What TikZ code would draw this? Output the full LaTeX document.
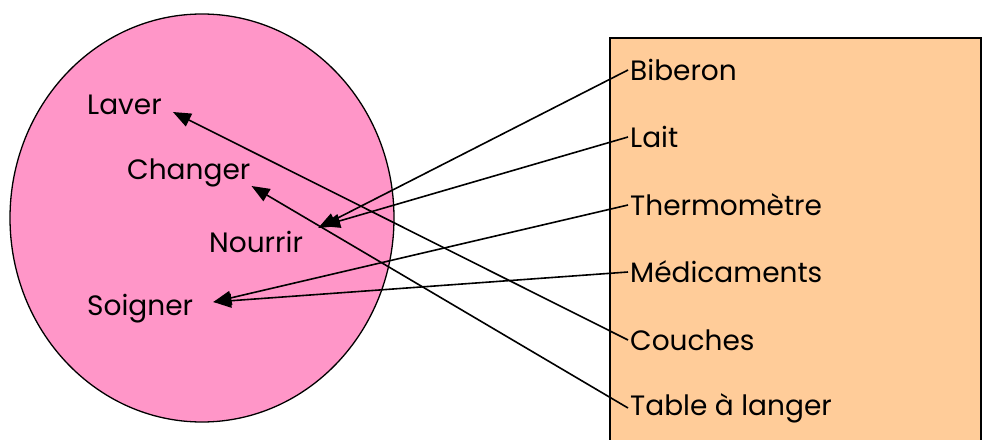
\documentclass[tikz,border=0pt]{standalone}
\usepackage{fontspec}
\setmainfont{Poppins}
\usetikzlibrary{arrows.meta}
\definecolor{setpink}{RGB}{255,150,200}
\definecolor{setorange}{RGB}{255,204,153}

\begin{document}
\begin{tikzpicture}[x=1pt, y=-1pt,
  item/.style={font=\fontsize{28}{33}\selectfont, inner sep=2pt, anchor=west},
  act/.style={font=\fontsize{28}{33}\selectfont, inner sep=2pt, anchor=west},
  link/.style={-{Triangle[length=18pt,width=14pt]}, line width=1.6pt}
]
\useasboundingbox (0,0) rectangle (982,439);

% Sets
\draw[fill=setpink, line width=1.3pt] (202,218) ellipse [x radius=192, y radius=204];
\draw[fill=setorange, line width=1.3pt] (610,445) |- (981,38) -- (981,445);

% Left set
\node[act] (laver) at (85,105) {Laver};
\node[act] (changer) at (125,173) {Changer};
\node[act] (nourrir) at (207,242) {Nourrir};
\node[act] (soigner) at (85,309) {Soigner};

% Right set
\node[item] (biberon) at (628,70) {Biberon};
\node[item] (lait) at (628,137) {Lait};
\node[item] (thermo) at (628,205) {Thermomètre};
\node[item] (medic) at (628,272) {Médicaments};
\node[item] (couches) at (628,340) {Couches};
\node[item] (table) at (628,408) {Table à langer};

% Links
\draw[link] (biberon.west) -- ([xshift=13pt, yshift=14pt]nourrir.east);
\draw[link] (lait.west) -- ([xshift=17pt, yshift=16pt]nourrir.east);
\draw[link] (thermo.west) -- ([xshift=18pt, yshift=7pt]soigner.east);
\draw[link] (medic.west) -- ([xshift=18pt, yshift=7pt]soigner.east);
\draw[link] (couches.west) -- ([xshift=9pt, yshift=-7pt]laver.east);
\draw[link] (table.west) -- ([xshift=-1pt, yshift=-13pt]changer.east);

\end{tikzpicture}
\end{document}
